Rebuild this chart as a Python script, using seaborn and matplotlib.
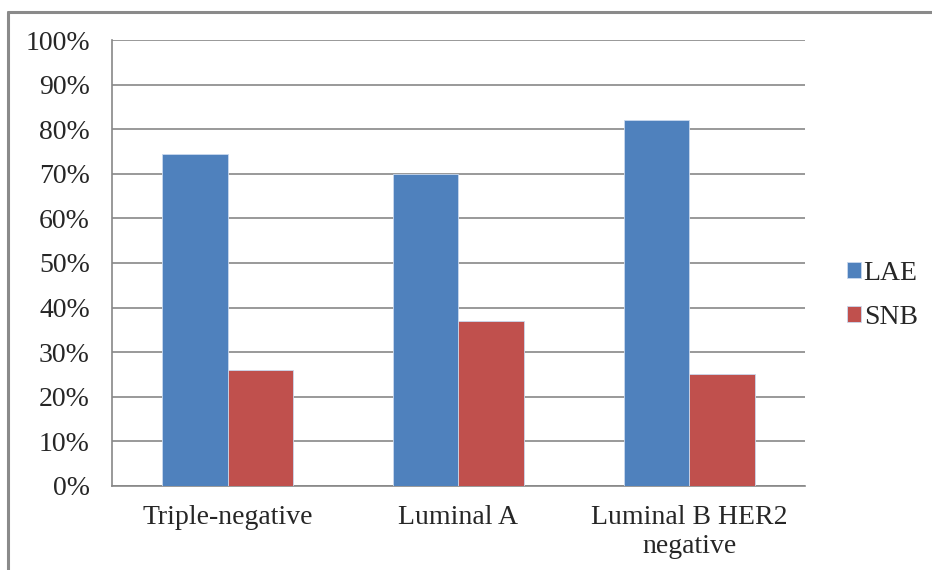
import pandas as pd
import seaborn as sns
import matplotlib.pyplot as plt
from matplotlib.lines import Line2D
from matplotlib.ticker import PercentFormatter

# values (percent)
categories = ["Triple-negative", "Luminal A", "Luminal B HER2\nnegative"]
lae_values = [74.5, 70.0, 82.0]
snb_values = [26.0, 37.0, 25.0]
series_names = ["LAE", "SNB"]
series_colors = ["#4F81BD", "#C0504D"]

df = pd.DataFrame({
    "category": categories * 2,
    "value": lae_values + snb_values,
    "series": [series_names[0]] * 3 + [series_names[1]] * 3,
})

sns.set_style("white")
plt.rcParams["font.family"] = ["Liberation Serif", "DejaVu Serif"]
fs = 20

fig = plt.figure(figsize=(9.32, 5.70), dpi=100)
ax = fig.add_axes([0.1202, 0.1474, 0.7435, 0.7824])

sns.barplot(data=df, x="category", y="value", hue="series",
            palette=series_colors, width=0.567, saturation=1,
            edgecolor="#c9d9ee", linewidth=0.6, ax=ax, zorder=3)

grid_col = "#878787"
ax.set_ylim(0, 100)
ax.set_xlim(-0.5, 2.5)
ax.set_yticks(range(0, 101, 10))
ax.yaxis.set_major_formatter(PercentFormatter(decimals=0))
ax.yaxis.grid(True, color=grid_col, linewidth=1.2, zorder=0)
ax.set_axisbelow(True)

# x ticks sit between categories, labels at centres
ax.set_xticks([-0.5, 0.5, 1.5, 2.5])
ax.set_xticklabels([])
ax.set_xticks([0, 1, 2], minor=True)
ax.set_xticklabels(categories, minor=True, fontsize=fs, linespacing=1.2)
ax.tick_params(axis="x", which="minor", length=0, pad=14)
ax.tick_params(axis="x", which="major", direction="out", length=7,
               width=1.2, color=grid_col)
ax.tick_params(axis="y", direction="out", length=7, width=1.2,
               color=grid_col, labelsize=fs, pad=9)

for s in ["top", "right"]:
    ax.spines[s].set_visible(False)
for s in ["left", "bottom"]:
    ax.spines[s].set_color(grid_col)
    ax.spines[s].set_linewidth(1.2)

ax.set_xlabel("")
ax.set_ylabel("")

handles, labels = ax.get_legend_handles_labels()
ax.get_legend().remove()
fig.legend(handles, labels, loc="center left", bbox_to_anchor=(0.882, 0.482),
           frameon=False, fontsize=fs, handlelength=0.5, handleheight=0.5,
           handletextpad=0.1, labelspacing=0.7)

# outer frame (left and top only are visible in the reference)
fig.add_artist(Line2D([8 / 932, 8 / 932], [0, 1 - 12 / 570],
                      transform=fig.transFigure, color="#8a8a8a", linewidth=2.2))
fig.add_artist(Line2D([8 / 932, 1], [1 - 12 / 570, 1 - 12 / 570],
                      transform=fig.transFigure, color="#8a8a8a", linewidth=2.2))

fig.savefig("out.png", dpi=100)
